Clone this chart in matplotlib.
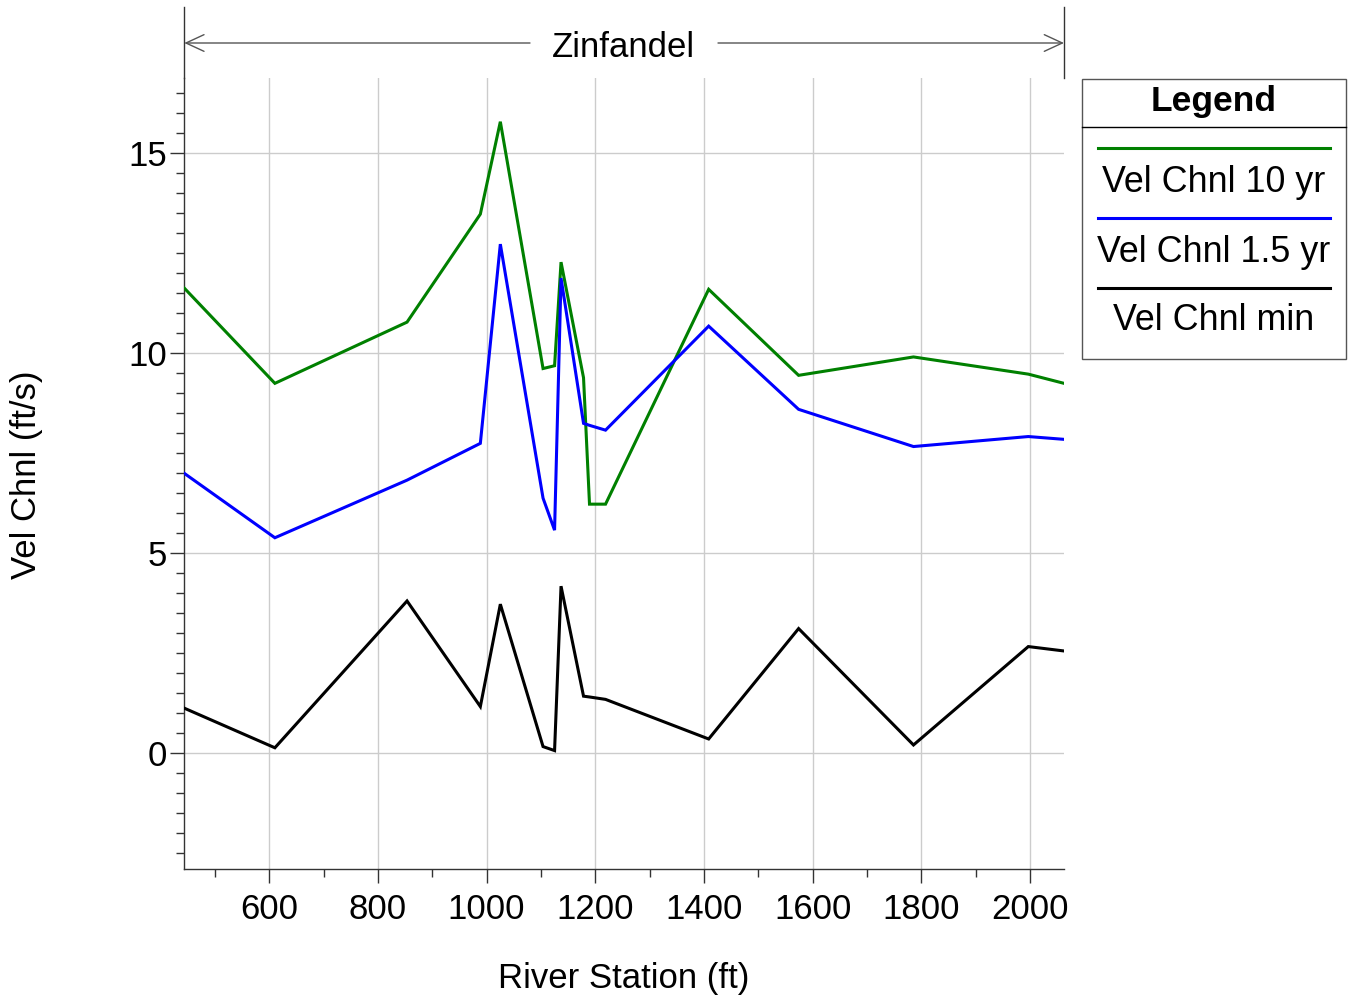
import matplotlib
matplotlib.use('Agg')
import matplotlib.pyplot as plt
from matplotlib.lines import Line2D
from matplotlib.patches import Rectangle, FancyArrowPatch
from matplotlib.ticker import MultipleLocator

plt.rcParams['font.family'] = ['Liberation Sans', 'DejaVu Sans']

# river stations (ft)
stations = [443.8, 610.5, 853.7, 988.6, 1025.4, 1104.0, 1125.2, 1137.1,
            1178.5, 1189.5, 1219.0, 1408.8, 1574.3, 1785.7, 1997.0, 2062.7]

# channel velocities (ft/s)
vel_10yr = [11.63, 9.25, 10.78, 13.48, 15.79, 9.62, 9.69, 12.28,
            9.39, 6.23, 6.23, 11.60, 9.45, 9.91, 9.48, 9.25]
vel_1_5yr = [7.00, 5.39, 6.83, 7.75, 12.73, 6.38, 5.58, 11.88,
             8.25, 8.20, 8.08, 10.68, 8.60, 7.67, 7.92, 7.85]
vel_min = [1.13, 0.14, 3.81, 1.17, 3.73, 0.17, 0.07, 4.18,
           1.43, 1.41, 1.35, 0.36, 3.12, 0.21, 2.67, 2.56]

series_labels = ['Vel Chnl 10 yr', 'Vel Chnl 1.5 yr', 'Vel Chnl min']
series_colors = ['#008000', '#0000ff', '#000000']

reach_name = 'Zinfandel'
xlabel = 'River Station (ft)'
ylabel = 'Vel Chnl (ft/s)'

W, H = 1354, 999


def px(x, y):
    # figure pixels (top-left origin) -> figure fraction
    return x / W, 1 - y / H


def main():
    fig = plt.figure(figsize=(W / 100, H / 100), dpi=100)

    ax_l, ax_r, ax_t, ax_b = 184.3, 1064.0, 78.3, 869.0
    ax = fig.add_axes([ax_l / W, 1 - ax_b / H,
                       (ax_r - ax_l) / W, (ax_b - ax_t) / H])

    for vals, lab, clr in zip(
            [vel_10yr, vel_1_5yr, vel_min], series_labels, series_colors):
        ax.plot(stations, vals, color=clr, lw=2.2, label=lab,
                solid_joinstyle='miter', zorder=3)

    ax.set_xlim(stations[0], stations[-1])
    ax.set_ylim(-2.89, 16.875)

    ax.xaxis.set_major_locator(MultipleLocator(200))
    ax.xaxis.set_minor_locator(MultipleLocator(100))
    ax.yaxis.set_major_locator(MultipleLocator(5))
    ax.yaxis.set_minor_locator(MultipleLocator(0.5))

    ax.grid(True, which='major', color='#cccccc', lw=1.0)
    ax.set_axisbelow(True)

    for s in ['top', 'right']:
        ax.spines[s].set_visible(False)
    for s in ['left', 'bottom']:
        ax.spines[s].set_color('#333333')
        ax.spines[s].set_linewidth(1.0)

    ax.tick_params(which='major', direction='out', length=10, width=1.0,
                   color='#333333', labelsize=25)
    ax.tick_params(which='minor', direction='out', length=5.5, width=1.0,
                   color='#333333')
    ax.tick_params(axis='x', which='major', pad=7.5)
    ax.tick_params(axis='y', which='major', pad=2.5)

    fig.text(*px(624, 988), xlabel, fontsize=25, ha='center', va='baseline')
    fig.text(*px(27, 475), ylabel, fontsize=25, ha='center', va='center',
             rotation=90)

    # reach bracket above the plot
    for xx in [ax_l, ax_r]:
        fig.add_artist(Line2D([xx / W, xx / W], [1 - 7 / H, 1 - ax_t / H],
                              color='#333333', lw=1.0))
    fig.text(*px(623, 56.7), reach_name, fontsize=25, ha='center',
             va='baseline')
    for x0, x1 in [(530, ax_l), (718, ax_r)]:
        fig.add_artist(FancyArrowPatch(
            px(x0, 43), px(x1, 43), transform=fig.transFigure,
            arrowstyle='->,head_length=13,head_width=6', mutation_scale=1,
            shrinkA=0, shrinkB=0, color='#555555', lw=1.0))

    # legend box
    lg_l, lg_r, lg_t, lg_b = 1081.7, 1346.0, 79.0, 359.0
    fig.add_artist(Rectangle(px(lg_l, lg_b), (lg_r - lg_l) / W,
                             (lg_b - lg_t) / H, transform=fig.transFigure,
                             facecolor='white', edgecolor='#555555', lw=1.0))
    fig.add_artist(Line2D([lg_l / W, lg_r / W], [1 - 127 / H, 1 - 127 / H],
                          color='black', lw=1.0))
    fig.text(*px(1214, 111), 'Legend', fontsize=25.5, fontweight='bold',
             ha='center', va='baseline')

    line_ys = [148, 218, 288]
    text_ys = [191.7, 261.7, 330.5]
    for lab, clr, ly, ty in zip(series_labels, series_colors, line_ys, text_ys):
        fig.add_artist(Line2D([1098 / W, 1330 / W], [1 - ly / H, 1 - ly / H],
                              color=clr, lw=2.2))
        fig.text(*px(1214, ty), lab, fontsize=25.8, ha='center',
                 va='baseline')

    fig.savefig('out.png', dpi=100)
    plt.close(fig)
    return


if __name__ == '__main__':
    main()
